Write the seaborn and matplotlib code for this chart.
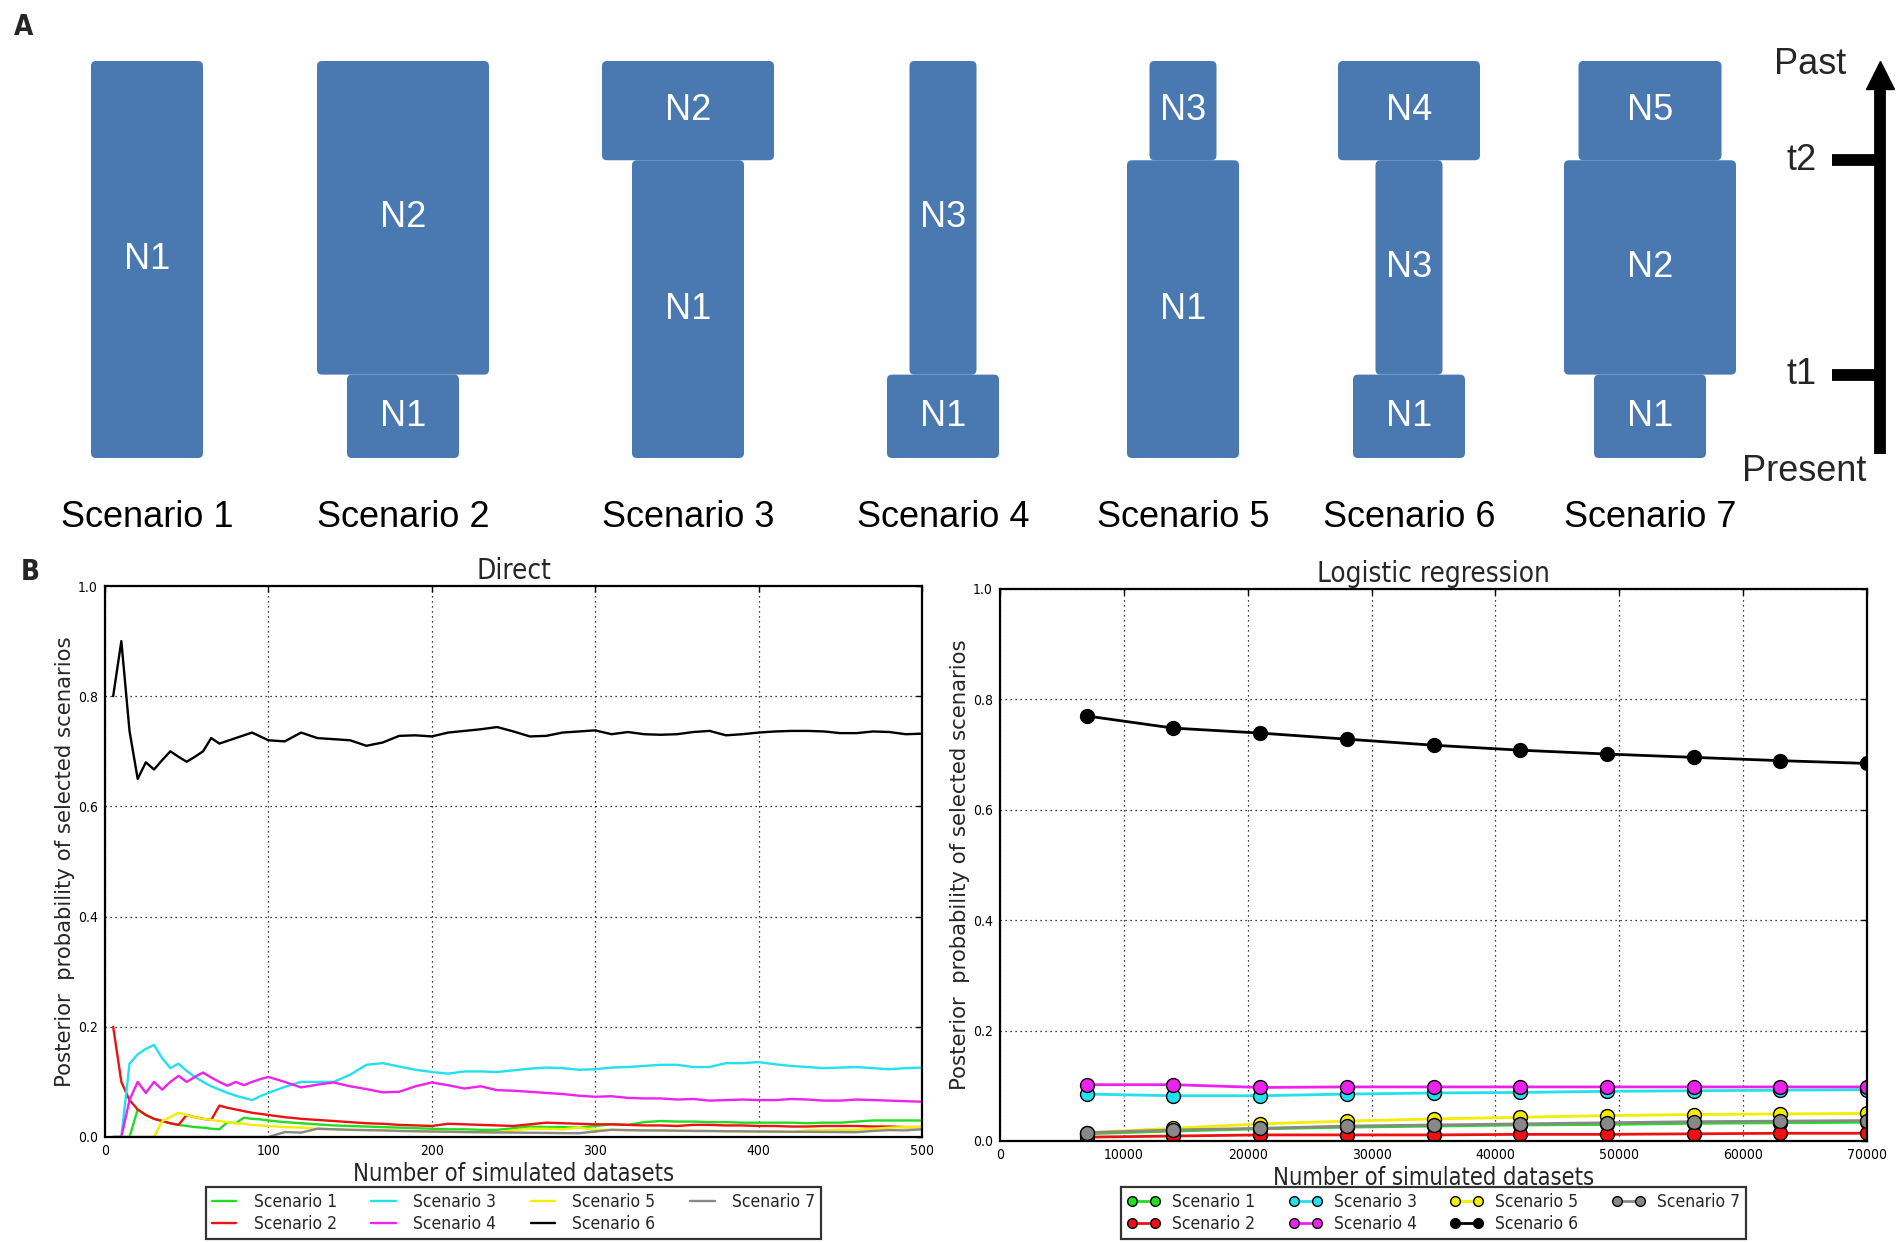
import matplotlib
matplotlib.use('Agg')
import matplotlib.pyplot as plt
from matplotlib import font_manager
from matplotlib.patches import FancyBboxPatch
from matplotlib.ticker import FormatStrFormatter
import numpy as np
import pandas as pd
import seaborn as sns

# ---------------- data ----------------
scenarios = ['Scenario 1', 'Scenario 2', 'Scenario 3', 'Scenario 4',
             'Scenario 5', 'Scenario 6', 'Scenario 7']
colors = ['#22dd22', '#ee1111', '#22e0ee', '#ee22ee', '#f2ee00', '#000000', '#888888']

direct_n = [5, 10, 15, 20, 25, 30, 35, 40, 45, 50, 55, 60, 65, 70, 75, 80, 85, 90, 95, 100,
            110, 120, 130, 140, 150, 160, 170, 180, 190, 200,
            210, 220, 230, 240, 250, 260, 270, 280, 290, 300,
            310, 320, 330, 340, 350, 360, 370, 380, 390, 400,
            410, 420, 430, 440, 450, 460, 470, 480, 490, 500]

direct_s1 = [0, 0, 0, 0.05, 0.04, 0.033, 0.029, 0.025, 0.022, 0.02, 0.018, 0.017, 0.015, 0.014,
             0.027, 0.025, 0.035, 0.033, 0.032, 0.03,
             0.027, 0.025, 0.023, 0.021, 0.02, 0.019, 0.018, 0.017, 0.016, 0.015,
             0.014, 0.014, 0.013, 0.013, 0.016, 0.019, 0.018, 0.018, 0.017, 0.02,
             0.023, 0.022, 0.027, 0.029, 0.028, 0.028, 0.027, 0.027, 0.026, 0.026,
             0.026, 0.026, 0.025, 0.026, 0.026, 0.028, 0.030, 0.030, 0.030, 0.030]
direct_s2 = [0.2, 0.10, 0.067, 0.05, 0.04, 0.033, 0.029, 0.025, 0.022, 0.04, 0.036, 0.033, 0.031,
             0.057, 0.053, 0.05, 0.047, 0.044, 0.042, 0.04,
             0.036, 0.033, 0.031, 0.029, 0.027, 0.025, 0.024, 0.022, 0.021, 0.02,
             0.024, 0.023, 0.022, 0.021, 0.02, 0.023, 0.026, 0.025, 0.024, 0.023,
             0.023, 0.022, 0.021, 0.021, 0.020, 0.022, 0.022, 0.021, 0.021, 0.020,
             0.020, 0.019, 0.019, 0.020, 0.020, 0.020, 0.019, 0.019, 0.018, 0.018]
direct_s3 = [0, 0, 0.133, 0.15, 0.16, 0.167, 0.143, 0.125, 0.133, 0.12, 0.109, 0.10, 0.092, 0.086,
             0.08, 0.075, 0.071, 0.067, 0.074, 0.08,
             0.091, 0.10, 0.10, 0.10, 0.113, 0.131, 0.134, 0.128, 0.122, 0.118,
             0.115, 0.119, 0.119, 0.118, 0.121, 0.124, 0.126, 0.125, 0.122, 0.123,
             0.126, 0.127, 0.129, 0.131, 0.131, 0.127, 0.127, 0.134, 0.134, 0.136,
             0.132, 0.129, 0.127, 0.125, 0.126, 0.127, 0.125, 0.123, 0.125, 0.126]
direct_s4 = [0, 0, 0.067, 0.10, 0.08, 0.10, 0.086, 0.10, 0.111, 0.10, 0.109, 0.117, 0.108, 0.10,
             0.093, 0.10, 0.094, 0.10, 0.105, 0.109,
             0.10, 0.09, 0.095, 0.099, 0.092, 0.087, 0.081, 0.082, 0.092, 0.099,
             0.094, 0.088, 0.092, 0.085, 0.084, 0.082, 0.080, 0.078, 0.075, 0.073,
             0.074, 0.071, 0.070, 0.070, 0.068, 0.069, 0.066, 0.067, 0.068, 0.067,
             0.067, 0.069, 0.068, 0.066, 0.066, 0.068, 0.067, 0.066, 0.065, 0.064]
direct_s5 = [0, 0, 0, 0, 0, 0, 0.029, 0.036, 0.044, 0.04, 0.036, 0.033, 0.031, 0.029,
             0.027, 0.025, 0.024, 0.022, 0.021, 0.02,
             0.018, 0.017, 0.015, 0.014, 0.013, 0.0125, 0.012, 0.011, 0.0105, 0.01,
             0.0095, 0.009, 0.0087, 0.0083, 0.012, 0.015, 0.015, 0.014, 0.017, 0.013,
             0.013, 0.0125, 0.012, 0.012, 0.0115, 0.011, 0.011, 0.0105, 0.010, 0.010,
             0.010, 0.0095, 0.012, 0.012, 0.013, 0.013, 0.015, 0.017, 0.018, 0.018]
direct_s6 = [0.80, 0.90, 0.737, 0.65, 0.68, 0.667, 0.684, 0.70, 0.69, 0.681, 0.69, 0.70, 0.724,
             0.714, 0.719, 0.724, 0.729, 0.734, 0.727, 0.72,
             0.718, 0.734, 0.724, 0.722, 0.72, 0.71, 0.716, 0.728, 0.729, 0.727,
             0.734, 0.737, 0.74, 0.744, 0.736, 0.727, 0.728, 0.734, 0.736, 0.738,
             0.731, 0.735, 0.731, 0.730, 0.731, 0.735, 0.737, 0.729, 0.731, 0.734,
             0.736, 0.737, 0.737, 0.736, 0.733, 0.733, 0.736, 0.735, 0.731, 0.732]
direct_s7 = [0, 0, 0, 0, 0, 0, 0, 0, 0, 0, 0, 0, 0, 0, 0, 0, 0, 0, 0, 0,
             0.009, 0.008, 0.015, 0.014, 0.013, 0.0125, 0.012, 0.011, 0.0105, 0.01,
             0.0095, 0.009, 0.0087, 0.0083, 0.008, 0.0077, 0.0074, 0.0071, 0.0069, 0.010,
             0.013, 0.0125, 0.012, 0.0118, 0.0114, 0.011, 0.0108, 0.0105, 0.0103, 0.010,
             0.0098, 0.0095, 0.0093, 0.0091, 0.0089, 0.0087, 0.011, 0.0125, 0.012, 0.014]

logit_n = [7000, 14000, 21000, 28000, 35000, 42000, 49000, 56000, 63000, 70000]
logit_s1 = [0.013, 0.018, 0.022, 0.025, 0.027, 0.029, 0.030, 0.032, 0.033, 0.034]
logit_s2 = [0.007, 0.009, 0.011, 0.011, 0.011, 0.012, 0.012, 0.013, 0.014, 0.014]
logit_s3 = [0.085, 0.082, 0.082, 0.085, 0.087, 0.088, 0.090, 0.091, 0.092, 0.093]
logit_s4 = [0.102, 0.102, 0.097, 0.098, 0.098, 0.098, 0.098, 0.098, 0.098, 0.098]
logit_s5 = [0.015, 0.023, 0.031, 0.036, 0.040, 0.043, 0.046, 0.048, 0.049, 0.050]
logit_s6 = [0.770, 0.748, 0.739, 0.728, 0.717, 0.708, 0.701, 0.695, 0.689, 0.684]
logit_s7 = [0.015, 0.020, 0.023, 0.027, 0.029, 0.031, 0.033, 0.035, 0.036, 0.037]

# panel A: population widths and the blocks of each scenario (population, from epoch, to epoch)
pop_width = {'N1': 112, 'N2': 172, 'N3': 67, 'N4': 142, 'N5': 143}
scenario_blocks = [
    [('N1', 0, 3)],
    [('N1', 0, 1), ('N2', 1, 3)],
    [('N1', 0, 2), ('N2', 2, 3)],
    [('N1', 0, 1), ('N3', 1, 3)],
    [('N1', 0, 2), ('N3', 2, 3)],
    [('N1', 0, 1), ('N3', 1, 2), ('N4', 2, 3)],
    [('N1', 0, 1), ('N2', 1, 2), ('N5', 2, 3)],
]
epoch_labels = ['Present', 't1', 't2', 'Past']

# ---------------- style ----------------
sns.set_style('white')
entries = font_manager.fontManager.ttflist
if any(f.name == 'DejaVu Sans' and f.stretch == 'condensed' for f in entries):
    narrow_family, narrow_stretch, fs = 'DejaVu Sans', 'condensed', 1.0
elif any(f.name == 'Liberation Sans Narrow' for f in entries):
    narrow_family, narrow_stretch, fs = 'Liberation Sans Narrow', 'condensed', 1.1
else:
    narrow_family, narrow_stretch, fs = 'DejaVu Sans', 'normal', 0.9
plt.rcParams['font.family'] = [narrow_family, 'DejaVu Sans']
plt.rcParams['font.stretch'] = narrow_stretch

W, H = 1904, 1242
fig = plt.figure(figsize=(W / 100, H / 100), dpi=100)

# ---------------- panel A ----------------
block_color = '#4a79b1'
slot_x = [147, 403, 688, 943, 1183, 1409, 1650]
epoch_y = [0.0, 0.21, 0.75, 1.0]
diag_font = dict(family='Liberation Sans', stretch='normal', size=26)

axA = fig.add_axes([0, 1 - 458 / H, 1, 397 / H])
axA.set_xlim(0, W)
axA.set_ylim(0, 1)
axA.axis('off')
for cx, blocks, name in zip(slot_x, scenario_blocks, scenarios):
    for pop, e0, e1 in blocks:
        w = pop_width[pop]
        y0, y1 = epoch_y[e0], epoch_y[e1]
        axA.add_patch(FancyBboxPatch((cx - w / 2, y0), w, y1 - y0,
                                     boxstyle='round,pad=0,rounding_size=5',
                                     mutation_aspect=1 / 397, fc=block_color, ec='none'))
        axA.text(cx, (y0 + y1) / 2, pop, color='white', ha='center', va='center', **diag_font)
    axA.text(cx, -0.151, name, color='black', ha='center', va='center', **diag_font)

# time arrow
tl_x = 1880
axA.plot([tl_x, tl_x], [0.01, 0.95], color='k', lw=8.5, solid_capstyle='butt')
axA.plot([tl_x], [0.965], marker='^', markersize=20, color='k', clip_on=False)
for e in (1, 2):
    axA.plot([1832, tl_x], [epoch_y[e], epoch_y[e]], color='k', lw=8.5, solid_capstyle='butt')
    axA.text(1802, epoch_y[e], epoch_labels[e], ha='center', va='center', **diag_font)
axA.text(1810, 0.99, epoch_labels[3], ha='center', va='center', **diag_font)
axA.text(1804, -0.033, epoch_labels[0], ha='center', va='center', **diag_font)

fig.text(14 / W, 1 - 27 / H, 'A', weight='bold', size=20 * fs, va='center', ha='left')
fig.text(21 / W, 1 - 572 / H, 'B', weight='bold', size=20 * fs, va='center', ha='left')

# ---------------- panel B ----------------
palette = dict(zip(scenarios, colors))
direct_series = [direct_s1, direct_s2, direct_s3, direct_s4, direct_s5, direct_s6, direct_s7]
logit_series = [logit_s1, logit_s2, logit_s3, logit_s4, logit_s5, logit_s6, logit_s7]
df_direct = pd.DataFrame({'n': np.tile(direct_n, 7),
                          'p': np.concatenate(direct_series),
                          'scenario': np.repeat(scenarios, len(direct_n))})
df_logit = pd.DataFrame({'n': np.tile(logit_n, 7),
                         'p': np.concatenate(logit_series),
                         'scenario': np.repeat(scenarios, len(logit_n))})

ax1 = fig.add_axes([105 / W, 1 - 1137 / H, 817 / W, 551 / H])
ax2 = fig.add_axes([1000 / W, 1 - 1141 / H, 867 / W, 552 / H])

sns.lineplot(data=df_direct, x='n', y='p', hue='scenario', hue_order=scenarios,
             palette=palette, lw=1.7, legend=False, errorbar=None, ax=ax1)
sns.lineplot(data=df_logit, x='n', y='p', hue='scenario', hue_order=scenarios,
             palette=palette, lw=2, marker='o', markersize=10,
             markeredgecolor='k', markeredgewidth=1, legend=False, errorbar=None, ax=ax2)

ylab = 'Posterior  probability of selected scenarios'
for ax, title, xmax, xstep in ((ax1, 'Direct', 500, 100), (ax2, 'Logistic regression', 70000, 10000)):
    ax.set_xlim(0, xmax)
    ax.set_ylim(0, 1)
    ax.set_xticks(np.arange(0, xmax + 1, xstep))
    ax.set_yticks(np.arange(0, 1.01, 0.2))
    ax.yaxis.set_major_formatter(FormatStrFormatter('%.1f'))
    ax.grid(True, color='k', linestyle=(0, (1, 3)), linewidth=0.9)
    ax.tick_params(direction='in', top=True, right=True, length=4, width=1,
                   labelsize=10 * fs, pad=5, colors='k')
    for sp in ax.spines.values():
        sp.set_color('k')
        sp.set_linewidth(1.6)
    ax.set_title(title, fontsize=20 * fs, pad=5)
    ax.set_xlabel('Number of simulated datasets', fontsize=17 * fs, labelpad=3)
    ax.set_ylabel(ylab, family='DejaVu Sans', stretch='normal', fontsize=15.3, labelpad=2)

legend_opts = [
    (ax1, -0.09, dict(numpoints=1, handlelength=1.4, handletextpad=1.0, columnspacing=2.0)),
    (ax2, -0.083, dict(numpoints=2, handlelength=1.92, handletextpad=0.7, columnspacing=1.9,
                       markerscale=0.7)),
]
for ax, y_anchor, opts in legend_opts:
    handles = ax.get_lines()[:7]
    leg = ax.legend(handles, scenarios, ncol=4, loc='upper center', bbox_to_anchor=(0.5, y_anchor),
                    frameon=True, fancybox=False, edgecolor='k', fontsize=12.5 * fs,
                    labelspacing=0.25, borderpad=0.35, borderaxespad=0, **opts)
    leg.get_frame().set_linewidth(1.6)

fig.savefig('out.png', dpi=100)
